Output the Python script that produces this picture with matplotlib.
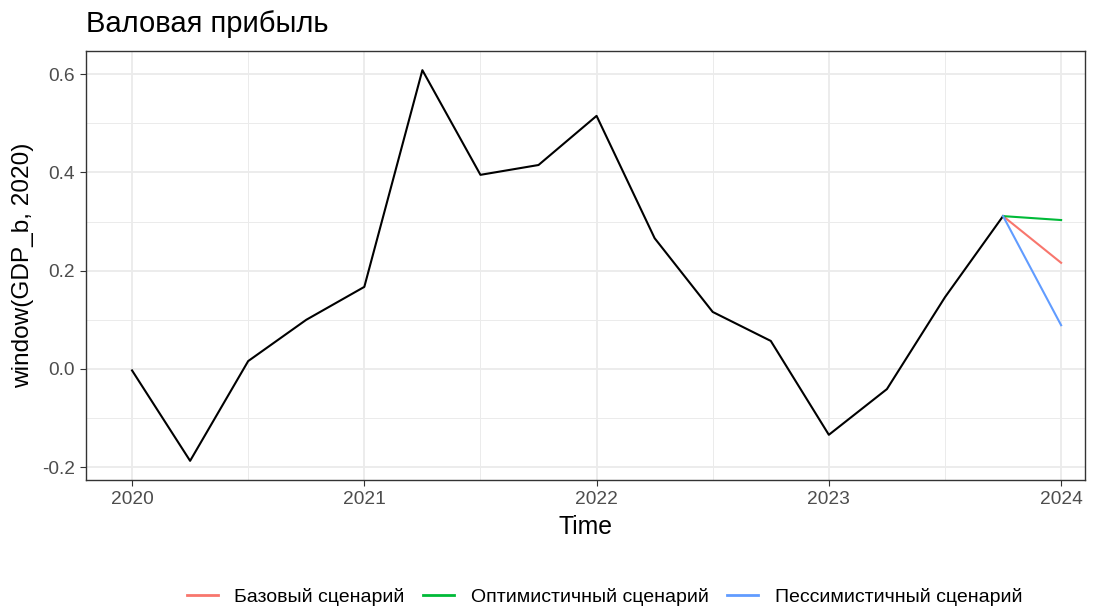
import matplotlib
matplotlib.use("Agg")
import matplotlib.pyplot as plt
from matplotlib.ticker import MultipleLocator

plt.rcParams['font.family'] = ['Liberation Sans', 'DejaVu Sans']

# Данные
time = [2020.0, 2020.25, 2020.5, 2020.75, 2021.0, 2021.25, 2021.5, 2021.75,
        2022.0, 2022.25, 2022.5, 2022.75, 2023.0, 2023.25, 2023.5, 2023.75]
gdp_b = [-0.003, -0.187, 0.016, 0.100, 0.167, 0.608, 0.395, 0.415,
         0.515, 0.266, 0.116, 0.057, -0.134, -0.041, 0.146, 0.311]

scen_time = [2023.75, 2024.0]
base = [0.311, 0.216]
optim = [0.311, 0.303]
pessim = [0.311, 0.089]

names = ['Базовый сценарий', 'Оптимистичный сценарий', 'Пессимистичный сценарий']
colors = ['#F8766D', '#00BA38', '#619CFF']

fig = plt.figure(figsize=(10.99, 6.10), dpi=100)
ax = fig.add_axes([0.0783, 0.2131, 0.909, 0.7033])

ax.plot(time, gdp_b, color='black', lw=1.5, zorder=3)
for vals, c, n in zip([base, optim, pessim], colors, names):
    ax.plot(scen_time, vals, color=c, lw=1.5, label=n, zorder=4)

ax.set_xlim(2019.802, 2024.103)
ax.set_ylim(-0.226, 0.647)
ax.xaxis.set_minor_locator(MultipleLocator(0.5))
ax.yaxis.set_minor_locator(MultipleLocator(0.1))
ax.set_xticks([2020, 2021, 2022, 2023, 2024])
ax.set_xticklabels(['2020', '2021', '2022', '2023', '2024'])
ax.set_yticks([-0.2, 0.0, 0.2, 0.4, 0.6])
ax.set_yticklabels(['-0.2', '0.0', '0.2', '0.4', '0.6'])

ax.grid(which='major', color='#EBEBEB', lw=1.3, zorder=0)
ax.grid(which='minor', color='#EBEBEB', lw=0.7, zorder=0)
ax.set_axisbelow(True)
for s in ax.spines.values():
    s.set_color('#333333')
    s.set_linewidth(1.0)
ax.tick_params(which='major', length=4, color='#333333', labelcolor='#4D4D4D', labelsize=13.8, pad=4)
ax.tick_params(which='minor', length=0)

ax.set_xlabel('Time', fontsize=17.8, labelpad=5)
ax.set_ylabel('window(GDP_b, 2020)', fontsize=17.6, labelpad=6)
ax.set_title('Валовая прибыль', fontsize=21, loc='left', pad=14)

fig.legend(loc='center', bbox_to_anchor=(0.55, 0.022), ncol=3, frameon=False,
           fontsize=14, handlelength=1.6, columnspacing=0.95, handletextpad=0.85)
for line in fig.legends[0].get_lines():
    line.set_linewidth(2)

fig.savefig('out.png', dpi=100)
